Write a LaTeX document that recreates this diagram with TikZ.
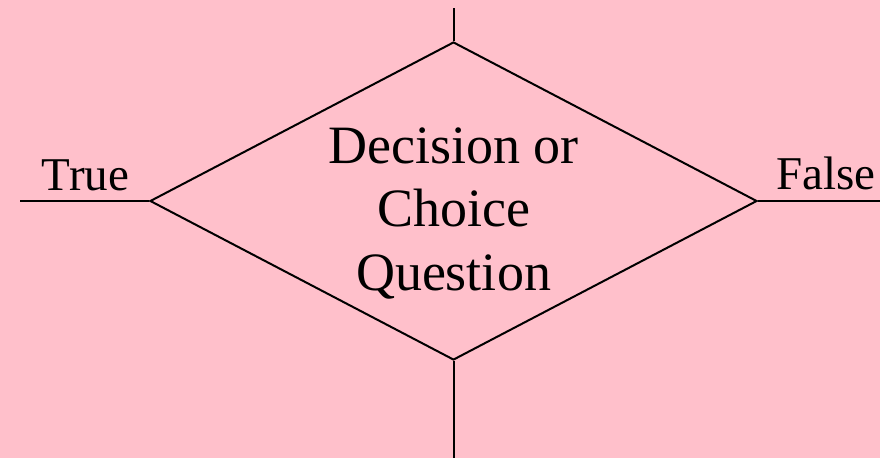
\documentclass[tikz,border=0pt]{standalone}
\usepackage{fontspec}
\setmainfont{Liberation Serif}
\usetikzlibrary{shapes.geometric}
\definecolor{bgpink}{RGB}{255,192,203}
\begin{document}
\begin{tikzpicture}[x=1pt,y=-1pt,
    flowline/.style={draw=black,line width=2pt},
    choicebox/.style={diamond,flowline,inner sep=0pt,minimum width=607pt,minimum height=318pt},
    bigtext/.style={font=\fontsize{54}{63.5}\selectfont,align=center,inner sep=0pt},
    sidetext/.style={font=\fontsize{47}{56}\selectfont,inner sep=0pt,anchor=base}]
  % page background
  \fill[bgpink] (0,0) rectangle (880,458);
  \useasboundingbox (0,0) rectangle (880,458);

  % decision diamond and its label
  \node[choicebox] (q) at (453.5,201) {};
  \node[bigtext] (qt) at (453.5,213) {Decision or\\Choice\\Question};

  % free ends of the four connectors
  \coordinate (inT) at (453.5,8);
  \coordinate (outB) at (453.5,458);
  \coordinate (outL) at (20,201);
  \coordinate (outR) at (880,201);

  \draw[flowline] (inT) -- (q.north);
  \draw[flowline] (q.south) -- (outB);
  \draw[flowline] (q.west) -- (outL);
  \draw[flowline] (q.east) -- (outR);

  % branch labels
  \node[sidetext] (tl) at (85.5,190) {True};
  \node[sidetext] (fl) at (826,189) {False};
\end{tikzpicture}
\end{document}
